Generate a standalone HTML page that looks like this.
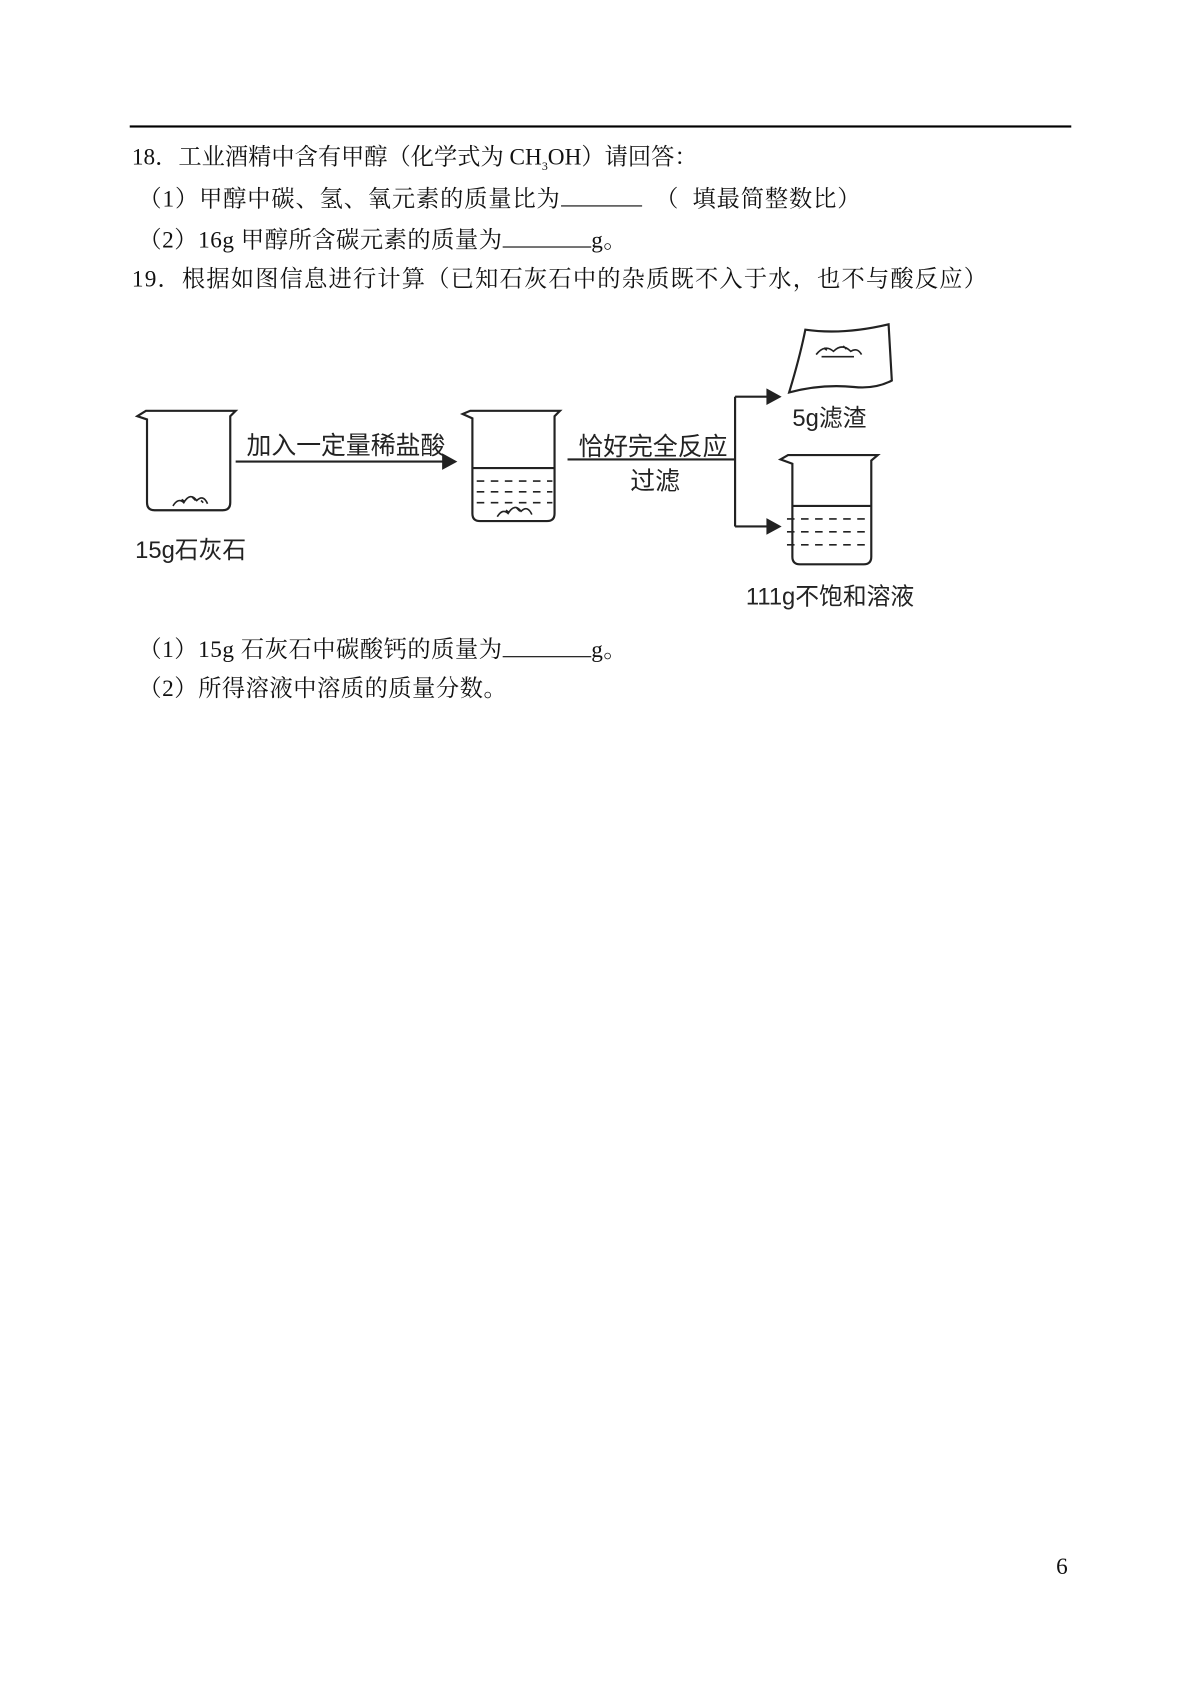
<!DOCTYPE html>
<html><head><meta charset="utf-8"><style>
body{margin:0;width:1200px;height:1695px;background:#fff;position:relative;overflow:hidden;font-family:"Liberation Serif","Noto Serif CJK SC",serif;color:#111}
#w{position:absolute;left:0;top:0;width:1110px;height:1568px;transform:scale(1.081);transform-origin:0 0}
.t{position:absolute;font-size:21.5px;line-height:24px;white-space:nowrap}
.u{display:inline-block;border-bottom:1.5px solid #000;height:20px;vertical-align:baseline}
.d{position:absolute;font-family:"Liberation Sans","Noto Sans CJK SC",sans-serif;font-size:23px;white-space:nowrap;color:#222}
</style></head><body><div id="w">
<div style="position:absolute;left:120px;top:116px;width:871px;height:2px;background:#000"></div>
<div class="t" style="left:122px;top:133px">18．工业酒精中含有甲醇（化学式为 CH<sub style="font-size:11px">3</sub>OH）请回答：</div>
<div class="t" style="left:128px;top:170px;letter-spacing:0.8px">（1）甲醇中碳、氢、氧元素的质量比为<span class="u" style="width:75px"></span>&nbsp;&nbsp;（&nbsp;&nbsp;填最简整数比）</div>
<div class="t" style="left:128px;top:208px;letter-spacing:0.5px">（2）16g 甲醇所含碳元素的质量为<span class="u" style="width:82px"></span>g。</div>
<div class="t" style="left:122px;top:246px;letter-spacing:1.1px">19．根据如图信息进行计算（已知石灰石中的杂质既不入于水，也不与酸反应）</div>

<svg style="position:absolute;left:0;top:0" width="1110" height="600" fill="none" stroke="#222" stroke-width="2">
<path d="M127 385 L135 380 L218 380 L213 385 L213 465 Q213 472 206 472 L143 472 Q136 472 136 465 L136 388 Z"/>
<path d="M428 383 L435 380 L518 380 L513 385 L513 475 Q513 482 506 482 L444 482 Q437 482 437 475 L437 387 Z"/>
<line x1="437" y1="433" x2="513" y2="433"/>
<g stroke-dasharray="7 6" stroke-width="1.5">
<line x1="441" y1="445" x2="511" y2="445"/><line x1="441" y1="455" x2="511" y2="455"/><line x1="441" y1="465" x2="511" y2="465"/>
<line x1="728" y1="480" x2="806" y2="480"/><line x1="728" y1="492" x2="806" y2="492"/><line x1="728" y1="504" x2="806" y2="504"/>
</g>
<path d="M722 425 L729 421 L812 421 L806 426 L806 515 Q806 522 799 522 L740 522 Q733 522 733 515 L733 429 Z"/>
<line x1="733" y1="468" x2="806" y2="468"/>
<g stroke-width="1.5"><path d="M160 468 q5 -8 10 -3 q6 -10 12 -2 q6 -6 10 3 M168 462 l3 2 M178 460 l3 3 M186 463 l2 2"/>
<path d="M460 478 q5 -8 10 -3 q6 -10 12 -2 q6 -6 10 3 M468 472 l3 2 M478 470 l3 3"/>
<path d="M755 328 q8 -10 16 -3 q8 -8 16 0 q6 -4 10 3 M760 330 l30 0 M762 322 l3 2 M780 320 l3 3"/></g>
<path d="M745 305 Q740 330 730 363 Q760 355 790 358 Q810 360 825 352 L822 300 Q780 310 745 305 Z"/>
<line x1="218" y1="427" x2="412" y2="427"/><path d="M410 421 L421 427 L410 433 Z" fill="#222"/>
<line x1="525" y1="425" x2="680" y2="425"/>
<line x1="680" y1="367" x2="680" y2="487"/>
<line x1="680" y1="367" x2="712" y2="367"/><path d="M710 361 L721 367 L710 373 Z" fill="#222"/>
<line x1="680" y1="487" x2="712" y2="487"/><path d="M710 481 L721 487 L710 493 Z" fill="#222"/>
</svg>
<div class="d" style="left:228px;top:393px">加入一定量稀盐酸</div>
<div class="d" style="left:535px;top:394px">恰好完全反应</div>
<div class="d" style="left:583px;top:426px">过滤</div>
<div class="d" style="left:733px;top:369px;font-size:22px">5g滤渣</div>
<div class="d" style="left:125px;top:491px;font-size:22px">15g石灰石</div>
<div class="d" style="left:690px;top:534px;font-size:22px">111g不饱和溶液</div>

<div class="t" style="left:128px;top:587px;letter-spacing:0.5px">（1）15g 石灰石中碳酸钙的质量为<span class="u" style="width:82px"></span>g。</div>
<div class="t" style="left:128px;top:625px;letter-spacing:0.5px">（2）所得溶液中溶质的质量分数。</div>
<div class="t" style="left:977px;top:1437px">6</div>
</div></body></html>
